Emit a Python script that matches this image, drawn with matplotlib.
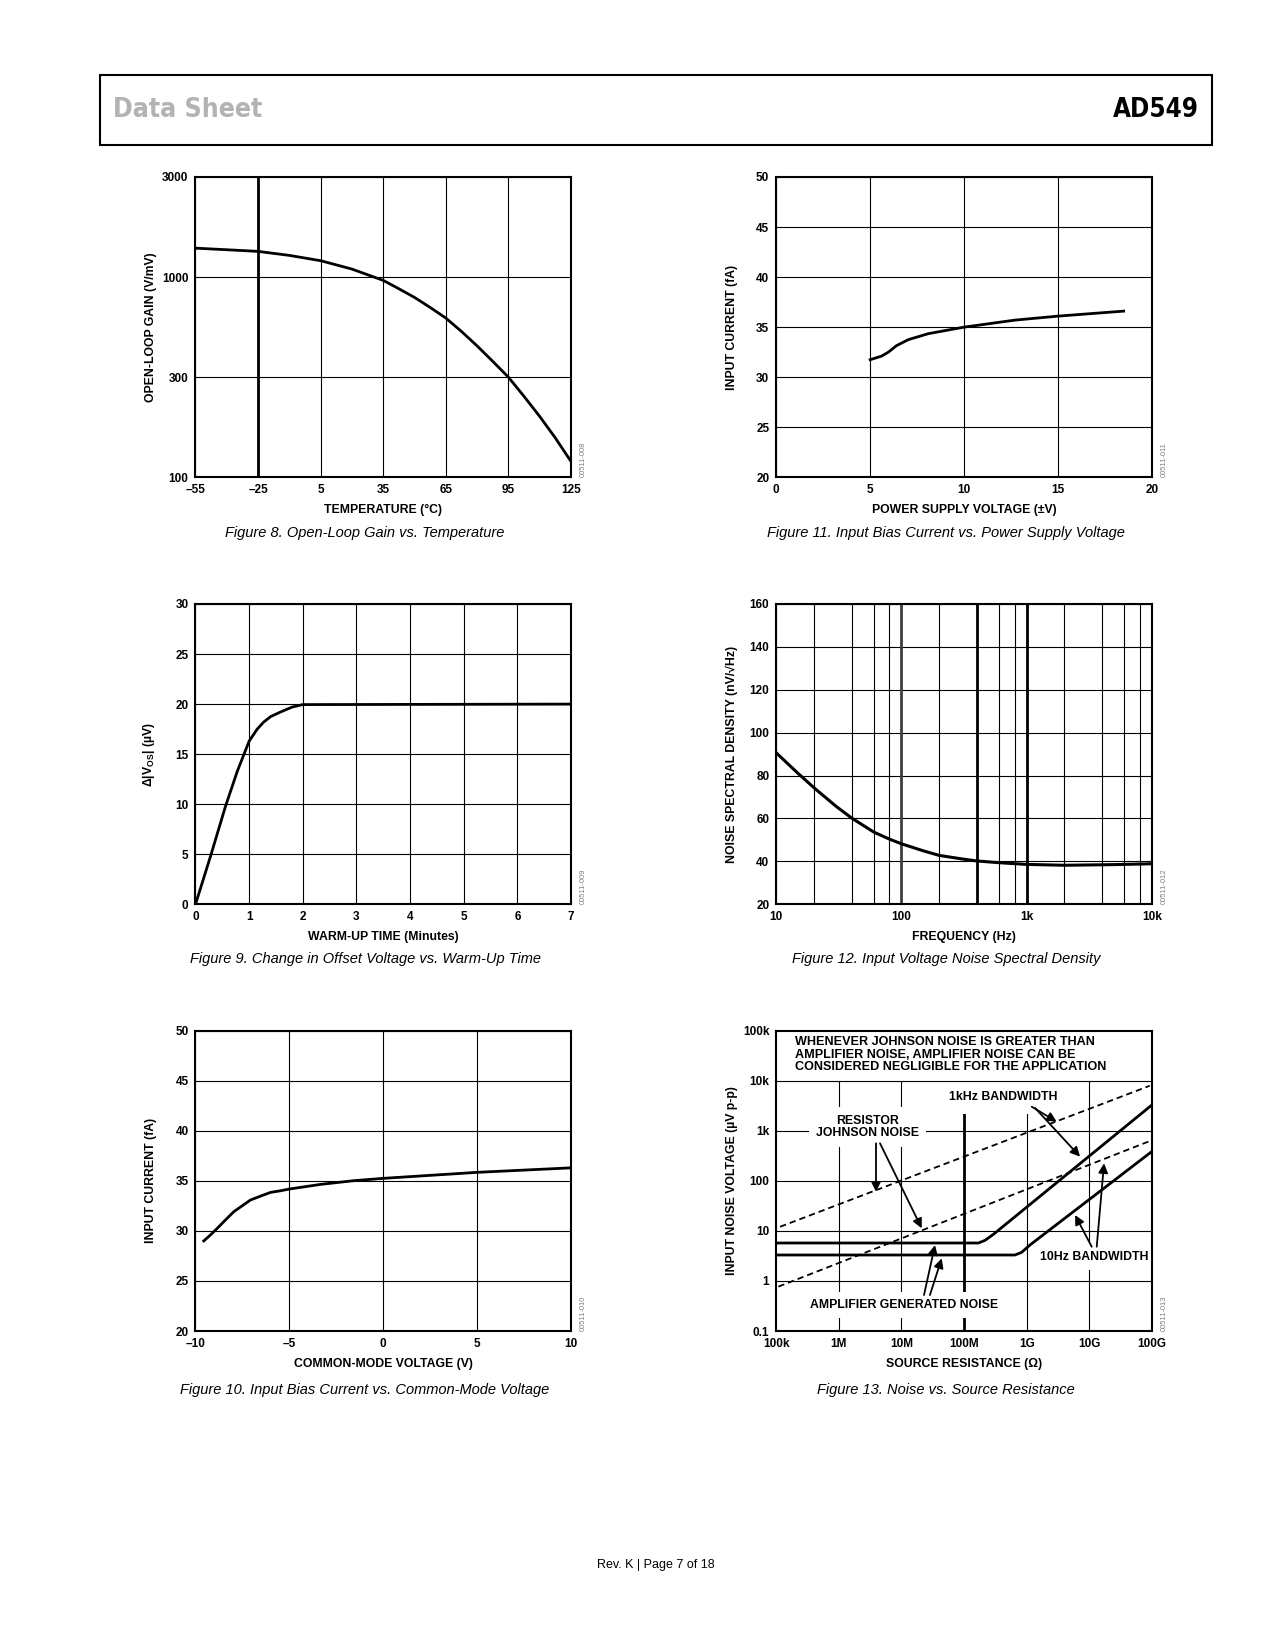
import os
import numpy as np
import matplotlib
matplotlib.use('Agg')
import matplotlib.pyplot as plt
from matplotlib import font_manager
from matplotlib.patches import Rectangle
from matplotlib.ticker import FixedLocator, NullFormatter, NullLocator

plt.rcParams['font.family'] = ['Liberation Sans', 'DejaVu Sans']
plt.rcParams['font.weight'] = 'bold'
plt.rcParams['axes.labelweight'] = 'bold'
plt.rcParams['mathtext.fontset'] = 'custom'
plt.rcParams['mathtext.rm'] = 'Liberation Sans:bold'
plt.rcParams['mathtext.it'] = 'Liberation Sans:bold'
plt.rcParams['mathtext.bf'] = 'Liberation Sans:bold'

# ---- data ----
# Figure 8: open-loop gain vs temperature
temp_c = [-55, -40, -25, -10, 5, 20, 35, 42.5, 50, 57.5, 65, 72.5, 80, 87.5, 95, 102.5, 110, 117.5, 125]
open_loop_gain = [1374, 1350, 1326, 1269, 1197, 1092, 961, 869, 783, 694, 611, 520, 437, 363, 300, 243,
                  195, 154, 119]
temp_ticks = [-55, -25, 5, 35, 65, 95, 125]
temp_labels = ['\u201355', '\u201325', '5', '35', '65', '95', '125']
gain_ticks = [100, 300, 1000, 3000]

# Figure 9: offset voltage change vs warm-up time
warmup_min = [0, 0.28, 0.56, 0.78, 1.0, 1.15, 1.27, 1.4, 1.58, 1.8, 2.0, 7.0]
delta_vos = [0, 4.8, 9.8, 13.3, 16.3, 17.5, 18.2, 18.75, 19.2, 19.7, 19.95, 20.0]

# Figure 10: input bias current vs common-mode voltage
vcm = [-9.56, -9.2, -8.84, -8.4, -7.96, -7.07, -6.5, -6.0, -5.5, -4.98, -3.33, -1.56, 0, 5, 10]
ib_vcm = [29.0, 29.6, 30.26, 31.1, 31.92, 33.09, 33.5, 33.85, 34.0, 34.19, 34.65, 35.02, 35.25, 35.85, 36.3]

# Figure 11: input bias current vs supply voltage
vsupply = [5.0, 5.6, 5.97, 6.4, 7.03, 8.1, 10.0, 12.7, 15.0, 18.5]
ib_vs = [31.75, 32.1, 32.5, 33.15, 33.75, 34.35, 35.0, 35.7, 36.1, 36.6]

# Figure 12: voltage noise spectral density
freq_hz = [10, 15, 20.4, 30, 40, 60, 80, 100, 150, 200, 300, 400, 600, 1000, 2000, 5000, 10000]
noise_nv = [90.6, 80.9, 73.9, 65.7, 60.2, 53.7, 50.4, 48.2, 44.9, 42.8, 41.2, 40.2, 39.4, 38.6, 38.2,
            38.5, 38.9]
freq_minor = [20, 40, 60, 80, 200, 400, 600, 800, 2000, 4000, 6000, 8000]

# Figure 13: noise vs source resistance
r_johnson_1k = [1.15e5, 9.3e10]
v_johnson_1k = [12.1, 7950]
r_johnson_10 = [1.08e5, 9.3e10]
v_johnson_10 = [0.77, 624]
r_amp_1k = [1e5, 1.69e8, 2.16e8, 2.94e8, 1e11]
v_amp_1k = [5.73, 5.73, 6.47, 8.53, 3270]
r_amp_10 = [1e5, 6.5e8, 8.3e8, 1.13e9, 1e11]
v_amp_10 = [3.3, 3.3, 3.72, 5.23, 385]
res_ticks = [1e5, 1e6, 1e7, 1e8, 1e9, 1e10, 1e11]
res_labels = ['100k', '1M', '10M', '100M', '1G', '10G', '100G']
volt_ticks = [0.1, 1, 10, 100, 1e3, 1e4, 1e5]
volt_labels = ['0.1', '1', '10', '100', '1k', '10k', '100k']

# arrows on figure 13: (tail R, tail V, tip R, tip V), log10 values
arrows13 = [
    (9.082, 3.481, 9.481, 3.182),
    (9.135, 3.456, 9.854, 2.483),
    (6.593, 2.75, 6.593, 1.783),
    (6.657, 2.75, 7.324, 1.052),
    (7.36, -0.281, 7.536, 0.718),
    (7.455, -0.281, 7.643, 0.452),
    (10.04, 0.684, 9.774, 1.318),
    (10.12, 0.684, 10.237, 2.351),
]


def condensed_font(bold):
    # first narrow/condensed face that is installed
    prefs = ['LiberationSansNarrow', 'NotoSans-Condensed', 'DejaVuSansCondensed', 'Condensed', 'Narrow']
    bad = ('Italic', 'Oblique', 'Extra', 'Semi', 'Light', 'Medium', 'Black', 'Thin')
    files = sorted(f.fname for f in font_manager.fontManager.ttflist)
    for p in prefs:
        for fn in files:
            base = os.path.basename(fn)
            if p in base and not any(b in base for b in bad) and (('Bold' in base) == bold):
                return font_manager.FontProperties(fname=fn)
    return font_manager.FontProperties(family='Liberation Sans', weight='bold' if bold else 'normal')


fig = plt.figure(figsize=(12.75, 16.5), dpi=100)

# header
fig.patches.append(Rectangle((0.0784, 0.9121), 0.8722, 0.0424, transform=fig.transFigure,
                             fill=False, lw=1.5, ec='k'))
renderer = fig.canvas.get_renderer()
for txt, x, ha, col, target in [('Data Sheet', 0.0883, 'left', '#b3b3b3', 150),
                                ('AD549', 0.9404, 'right', 'k', 86)]:
    t = fig.text(x, 0.9333, txt, fontproperties=condensed_font(True), size=26, color=col,
                 ha=ha, va='center')
    w = t.get_window_extent(renderer).width
    t.set_size(26 * target / w)

fig.text(0.5145, 0.0515, 'Rev. K | Page 7 of 18', weight='normal', size=9, ha='center', va='center')

cols = [0.15333, 0.60886]
rows = [0.71073, 0.45194, 0.19333]
W, H = 0.29451, 0.182


def make_ax(col, row, code):
    ax = fig.add_axes([cols[col], rows[row], W, H])
    for s in ax.spines.values():
        s.set_linewidth(1.5)
        s.set_zorder(10)
    ax.tick_params(length=0, labelsize=8.5, pad=5)
    ax.text(1.033, 0.0, code, transform=ax.transAxes, rotation=90, ha='center', va='bottom',
            size=5.5, weight='normal', color='#808080')
    ax.yaxis.set_label_coords(-0.102 if col == 0 else -0.101, 0.5)
    return ax


def labels(ax, xl, yl):
    ax.set_xlabel(xl, size=8.8)
    ax.set_ylabel(yl, size=8.8)
    ax.xaxis.set_label_coords(0.5, -0.09)
    ax.xaxis.label.set_va('top')


def caption(col, row, txt):
    x = 0.2863 if col == 0 else 0.742
    y = [0.677, 0.4185, 0.1577][row]
    fig.text(x, y, txt, style='italic', weight='normal', size=10.5, ha='center', va='center')


# Figure 8
log_g = np.log10(gain_ticks)


def g_fwd(v):
    return np.interp(np.log10(np.clip(v, 1e-6, None)), log_g, np.arange(len(log_g)))


def g_inv(u):
    return 10 ** np.interp(u, np.arange(len(log_g)), log_g)


ax = make_ax(0, 0, '00511-008')
ax.set_yscale('function', functions=(g_fwd, g_inv))
ax.set_xlim(-55, 125)
ax.set_ylim(100, 3000)
ax.set_xticks(temp_ticks, temp_labels)
ax.set_yticks(gain_ticks, [str(g) for g in gain_ticks])
ax.yaxis.set_minor_locator(NullLocator())
ax.grid(True, color='k', lw=0.8)
ax.axvline(-25, color='k', lw=2)
ax.plot(temp_c, open_loop_gain, color='k', lw=2)
labels(ax, 'TEMPERATURE (\u00b0C)', 'OPEN-LOOP GAIN (V/mV)')
caption(0, 0, 'Figure 8. Open-Loop Gain vs. Temperature')

# Figure 11
ax = make_ax(1, 0, '00511-011')
ax.set_xlim(0, 20)
ax.set_ylim(20, 50)
ax.set_xticks(range(0, 21, 5))
ax.set_yticks(range(20, 51, 5))
ax.grid(True, color='k', lw=0.8)
ax.plot(vsupply, ib_vs, color='k', lw=2)
labels(ax, 'POWER SUPPLY VOLTAGE (\u00b1V)', 'INPUT CURRENT (fA)')
caption(1, 0, 'Figure 11. Input Bias Current vs. Power Supply Voltage')

# Figure 9
ax = make_ax(0, 1, '00511-009')
ax.set_xlim(0, 7)
ax.set_ylim(0, 30)
ax.set_xticks(range(0, 8))
ax.set_yticks(range(0, 31, 5))
ax.grid(True, color='k', lw=0.8)
ax.plot(warmup_min, delta_vos, color='k', lw=2)
labels(ax, 'WARM-UP TIME (Minutes)', '\u0394|V$_{\\mathrm{OS}}$| (\u00b5V)')
caption(0, 1, 'Figure 9. Change in Offset Voltage vs. Warm-Up Time')

# Figure 12
ax = make_ax(1, 1, '00511-012')
ax.set_xscale('log')
ax.set_xlim(10, 10000)
ax.set_ylim(20, 160)
ax.set_xticks([10, 100, 1000, 10000], ['10', '100', '1k', '10k'])
ax.xaxis.set_minor_locator(FixedLocator(freq_minor))
ax.xaxis.set_minor_formatter(NullFormatter())
ax.tick_params(which='minor', length=0)
ax.set_yticks(range(20, 161, 20))
ax.grid(True, which='both', color='k', lw=0.8)
ax.axvline(100, color='#404040', lw=2)
for f in (400, 1000):
    ax.axvline(f, color='k', lw=2)
ax.plot(freq_hz, noise_nv, color='k', lw=2.2)
labels(ax, 'FREQUENCY (Hz)', 'NOISE SPECTRAL DENSITY (nV/\u221aHz)')
caption(1, 1, 'Figure 12. Input Voltage Noise Spectral Density')

# Figure 10
ax = make_ax(0, 2, '00511-010')
ax.set_xlim(-10, 10)
ax.set_ylim(20, 50)
ax.set_xticks(range(-10, 11, 5), ['\u201310', '\u20135', '0', '5', '10'])
ax.set_yticks(range(20, 51, 5))
ax.grid(True, color='k', lw=0.8)
ax.plot(vcm, ib_vcm, color='k', lw=2)
labels(ax, 'COMMON-MODE VOLTAGE (V)', 'INPUT CURRENT (fA)')
caption(0, 2, 'Figure 10. Input Bias Current vs. Common-Mode Voltage')

# Figure 13
ax = make_ax(1, 2, '00511-013')
ax.set_xscale('log')
ax.set_yscale('log')
ax.set_xlim(1e5, 1e11)
ax.set_ylim(0.1, 1e5)
ax.set_xticks(res_ticks, res_labels)
ax.set_yticks(volt_ticks, volt_labels)
ax.xaxis.set_minor_locator(NullLocator())
ax.yaxis.set_minor_locator(NullLocator())
for v in volt_ticks[1:5]:
    ax.axhline(v, color='k', lw=0.8, zorder=1)
ax.axhline(1e4, color='k', lw=0.8, zorder=4)
for r in (1e6, 1e7, 1e9, 1e10):
    ax.axvline(r, ymax=5 / 6, color='k', lw=0.8, zorder=1)
ax.axvline(1e8, ymax=5 / 6, color='k', lw=2, zorder=1)

dash = (0, (3.5, 2.2))
ax.plot(r_johnson_1k, v_johnson_1k, color='k', lw=1.3, ls=dash, zorder=5)
ax.plot(r_johnson_10, v_johnson_10, color='k', lw=1.3, ls=dash, zorder=5)
ax.plot(r_amp_1k, v_amp_1k, color='k', lw=2, zorder=5)
ax.plot(r_amp_10, v_amp_10, color='k', lw=2, zorder=5)

box = dict(boxstyle='square,pad=0.6', fc='white', ec='none')
ax.text(0.05, 0.982, 'WHENEVER JOHNSON NOISE IS GREATER THAN\nAMPLIFIER NOISE, AMPLIFIER NOISE CAN BE\n'
        'CONSIDERED NEGLIGIBLE FOR THE APPLICATION', transform=ax.transAxes, size=9.1,
        ha='left', va='top', linespacing=1.05)
ax.text(4.2e8, 4790, '1kHz BANDWIDTH', size=8.8, ha='center', va='center', zorder=3,
        bbox=dict(boxstyle='square,pad=0.9', fc='white', ec='none'))
ax.text(2.88e6, 1190, 'RESISTOR\nJOHNSON NOISE', size=8.8, ha='center', va='center',
        linespacing=1.1, zorder=3, bbox=box)
ax.text(1.1e7, 0.33, 'AMPLIFIER GENERATED NOISE', size=8.8, ha='center', va='center',
        zorder=3, bbox=box)
ax.text(1.19e10, 3.06, '10Hz BANDWIDTH', size=8.8, ha='center', va='center', zorder=3, bbox=box)
for x0, y0, x1, y1 in arrows13:
    ax.annotate('', xy=(10 ** x1, 10 ** y1), xytext=(10 ** x0, 10 ** y0), zorder=6,
                arrowprops=dict(arrowstyle='-|>', color='k', lw=1.3, mutation_scale=14,
                                shrinkA=0, shrinkB=0))
labels(ax, 'SOURCE RESISTANCE (\u03a9)', 'INPUT NOISE VOLTAGE (\u00b5V p-p)')
caption(1, 2, 'Figure 13. Noise vs. Source Resistance')

fig.savefig('out.png', dpi=100)
